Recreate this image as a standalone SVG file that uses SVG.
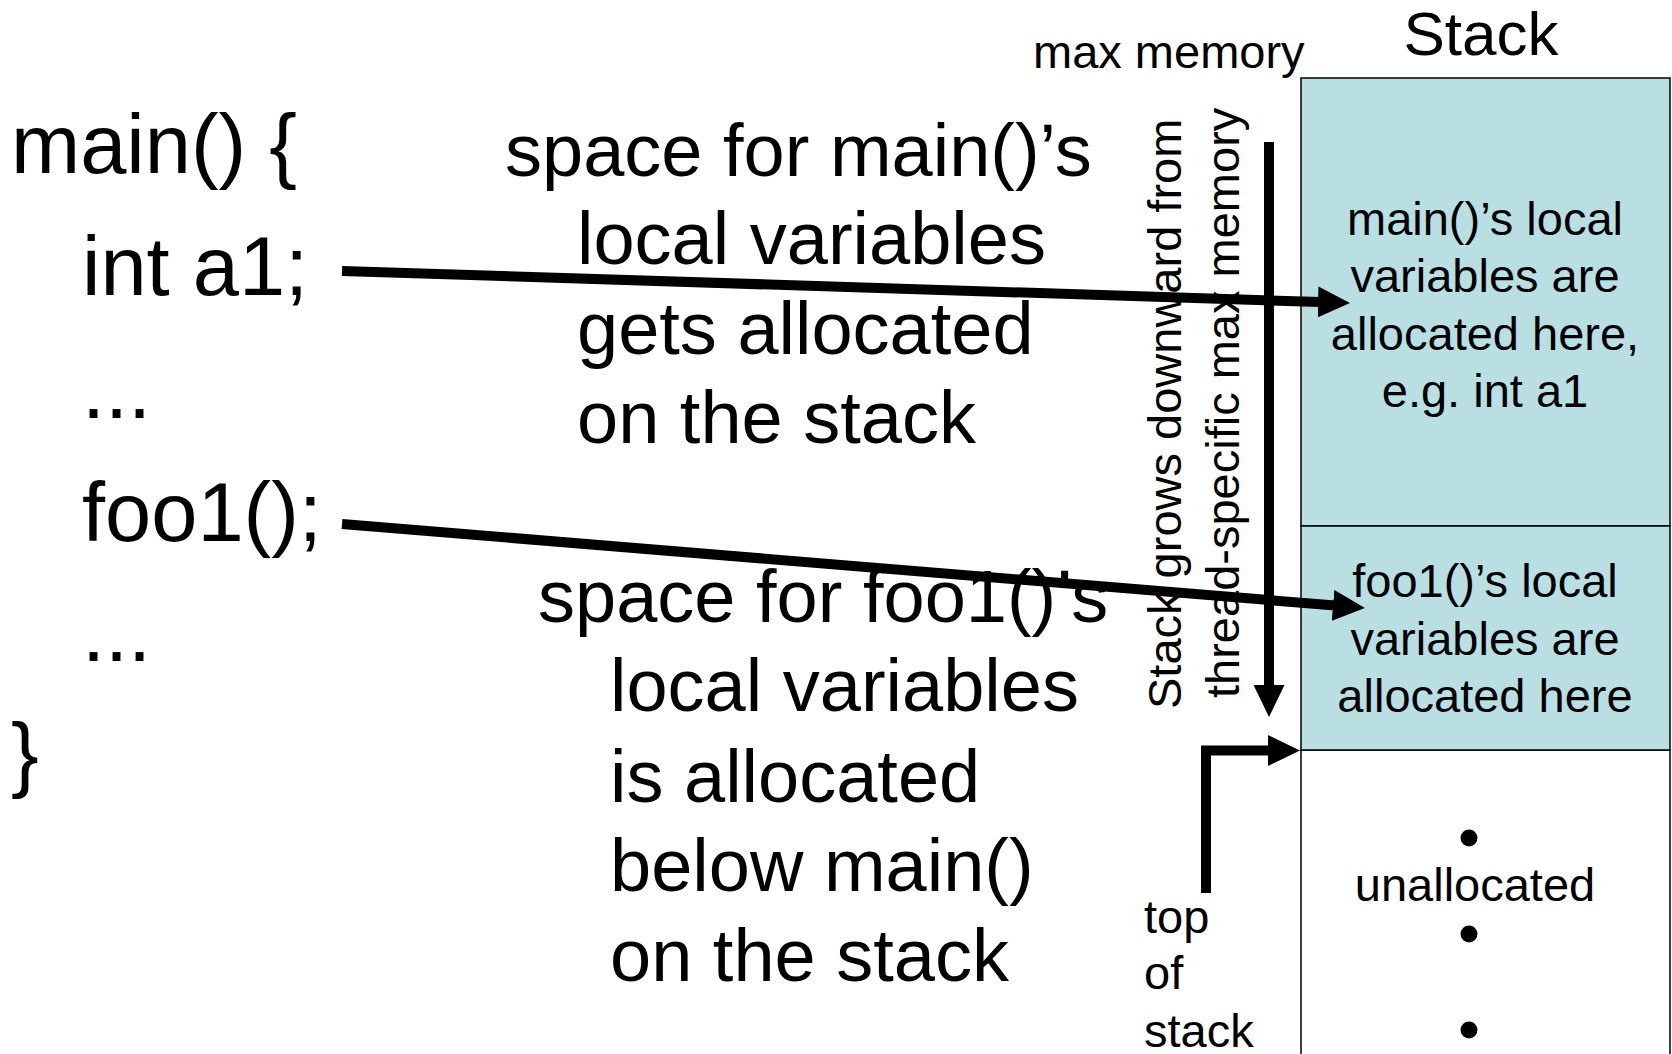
<svg xmlns="http://www.w3.org/2000/svg" width="1672" height="1054" viewBox="0 0 1672 1054">
<style>
  text { font-family: "Liberation Sans", Arial, sans-serif; fill: #000; }
  .code { font-size: 83px; }
  .mid { font-size: 74px; }
  .sm { font-size: 47px; }
  .title { font-size: 62px; }
  .ctr { text-anchor: middle; }
  .box { fill: #BADFE3; stroke: #000; stroke-width: 1.5; }
  .open { fill: #fff; stroke: #000; stroke-width: 1.5; }
  .conn { fill: none; stroke: #000; stroke-width: 10; stroke-linejoin: miter; }
</style>
<defs>
  <marker id="ah" viewBox="0 0 32 31" refX="2" refY="15.5" markerWidth="32" markerHeight="31" markerUnits="userSpaceOnUse" orient="auto">
    <path d="M0,0 L32,15.5 L0,31 z" fill="#000"/>
  </marker>
</defs>
<rect width="1672" height="1054" fill="#fff"/>

<g id="code">
  <text class="code" x="11" y="173">main() {</text>
  <text class="code" x="82" y="295">int a1;</text>
  <text class="code" x="82" y="418">...</text>
  <text class="code" x="82" y="541">foo1();</text>
  <text class="code" x="82" y="661">...</text>
  <text class="code" x="11" y="782">}</text>
</g>

<g id="main-note">
  <text class="mid" x="505" y="176">space for main()’s</text>
  <text class="mid" x="577" y="264">local variables</text>
  <text class="mid" x="577" y="354">gets allocated</text>
  <text class="mid" x="577" y="443">on the stack</text>
</g>

<g id="foo1-note">
  <text class="mid" x="538" y="622">space for foo1()’s</text>
  <text class="mid" x="610" y="711">local variables</text>
  <text class="mid" x="610" y="802">is allocated</text>
  <text class="mid" x="610" y="891">below main()</text>
  <text class="mid" x="610" y="981">on the stack</text>
</g>

<g id="stack-title">
  <text class="title ctr" x="1481" y="55">Stack</text>
</g>

<g id="max-memory">
  <text class="sm" x="1033" y="68">max memory</text>
</g>

<g id="unallocated-frame">
  <rect class="open" x="1301" y="750" width="369" height="320"/>
  <text class="sm ctr" x="1475" y="901">unallocated</text>
  <circle cx="1469" cy="838" r="8.5" fill="#000"/>
  <circle cx="1469" cy="934" r="8.5" fill="#000"/>
  <circle cx="1469" cy="1030" r="8.5" fill="#000"/>
</g>

<g id="main-frame">
  <rect class="box" x="1301" y="78" width="369" height="448"/>
  <text class="sm ctr" x="1485" y="235">main()’s local</text>
  <text class="sm ctr" x="1485" y="292">variables are</text>
  <text class="sm ctr" x="1485" y="350">allocated here,</text>
  <text class="sm ctr" x="1485" y="407">e.g. int a1</text>
</g>

<g id="foo1-frame">
  <rect class="box" x="1301" y="526" width="369" height="224"/>
  <text class="sm ctr" x="1485" y="597">foo1()’s local</text>
  <text class="sm ctr" x="1485" y="655">variables are</text>
  <text class="sm ctr" x="1485" y="712">allocated here</text>
</g>

<g id="grows-label">
  <text class="sm" transform="translate(1181,709) rotate(-90)">Stack grows downward from</text>
  <text class="sm" transform="translate(1239,698) rotate(-90)">thread-specific max memory</text>
</g>

<g id="top-of-stack">
  <text class="sm" x="1144" y="933">top</text>
  <text class="sm" x="1144" y="989">of</text>
  <text class="sm" x="1144" y="1047">stack</text>
</g>

<g id="connectors">
  <line class="conn" x1="342" y1="271" x2="1320" y2="302" marker-end="url(#ah)"/>
  <line class="conn" x1="342" y1="524" x2="1335" y2="605.5" marker-end="url(#ah)"/>
  <line class="conn" x1="1269" y1="142" x2="1269" y2="687" marker-end="url(#ah)"/>
  <path class="conn" d="M1206,893 V750.5 H1270" marker-end="url(#ah)"/>
</g>
</svg>
